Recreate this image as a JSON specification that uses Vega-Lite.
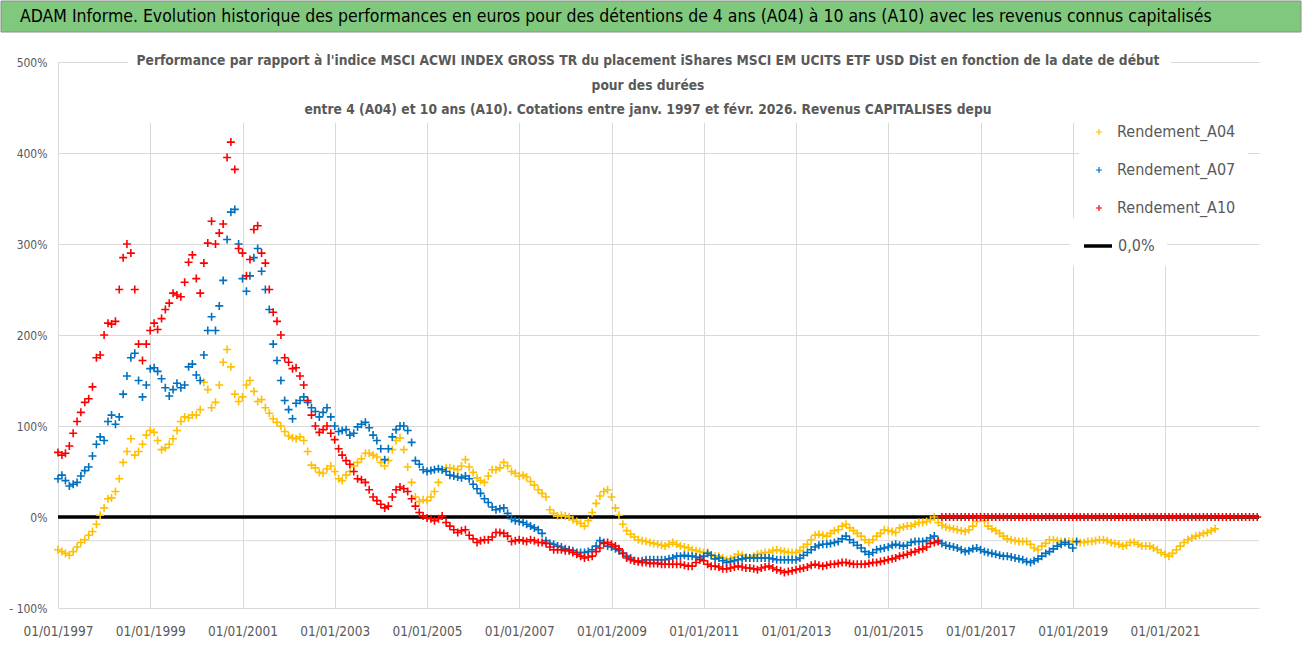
{
"$schema": "https://vega.github.io/schema/vega-lite/v6.json",
"padding": 0,
"columns": 1,
"bounds": "full",
"spacing": 21,
"background": "white",
"resolve": {"scale": {"color": "independent", "strokeDash": "independent"}, "legend": {"color": "independent", "strokeDash": "independent"}},
"config": {"font": "Liberation Sans Narrow, DejaVu Sans Condensed, sans-serif", "view": {"stroke": null}},
"datasets": {
"perf": [
{"date":"1997-01","series":"A04","value":-36},{"date":"1997-02","series":"A04","value":-38},{"date":"1997-03","series":"A04","value":-40},{"date":"1997-04","series":"A04","value":-42},{"date":"1997-05","series":"A04","value":-38},{"date":"1997-06","series":"A04","value":-33},{"date":"1997-07","series":"A04","value":-28},{"date":"1997-08","series":"A04","value":-25},{"date":"1997-09","series":"A04","value":-20},{"date":"1997-10","series":"A04","value":-16},{"date":"1997-11","series":"A04","value":-8},{"date":"1997-12","series":"A04","value":2},
{"date":"1998-01","series":"A04","value":10},{"date":"1998-02","series":"A04","value":20},{"date":"1998-03","series":"A04","value":21},{"date":"1998-04","series":"A04","value":28},{"date":"1998-05","series":"A04","value":42},{"date":"1998-06","series":"A04","value":60},{"date":"1998-07","series":"A04","value":72},{"date":"1998-08","series":"A04","value":86},{"date":"1998-09","series":"A04","value":68},{"date":"1998-10","series":"A04","value":72},{"date":"1998-11","series":"A04","value":80},{"date":"1998-12","series":"A04","value":90},
{"date":"1999-01","series":"A04","value":95},{"date":"1999-02","series":"A04","value":93},{"date":"1999-03","series":"A04","value":84},{"date":"1999-04","series":"A04","value":74},{"date":"1999-05","series":"A04","value":76},{"date":"1999-06","series":"A04","value":80},{"date":"1999-07","series":"A04","value":86},{"date":"1999-08","series":"A04","value":95},{"date":"1999-09","series":"A04","value":105},{"date":"1999-10","series":"A04","value":110},{"date":"1999-11","series":"A04","value":109},{"date":"1999-12","series":"A04","value":112},
{"date":"2000-01","series":"A04","value":112},{"date":"2000-02","series":"A04","value":118},{"date":"2000-03","series":"A04","value":148},{"date":"2000-04","series":"A04","value":140},{"date":"2000-05","series":"A04","value":120},{"date":"2000-06","series":"A04","value":126},{"date":"2000-07","series":"A04","value":145},{"date":"2000-08","series":"A04","value":170},{"date":"2000-09","series":"A04","value":184},{"date":"2000-10","series":"A04","value":165},{"date":"2000-11","series":"A04","value":135},{"date":"2000-12","series":"A04","value":127},
{"date":"2001-01","series":"A04","value":132},{"date":"2001-02","series":"A04","value":145},{"date":"2001-03","series":"A04","value":150},{"date":"2001-04","series":"A04","value":138},{"date":"2001-05","series":"A04","value":127},{"date":"2001-06","series":"A04","value":129},{"date":"2001-07","series":"A04","value":120},{"date":"2001-08","series":"A04","value":114},{"date":"2001-09","series":"A04","value":108},{"date":"2001-10","series":"A04","value":104},{"date":"2001-11","series":"A04","value":100},{"date":"2001-12","series":"A04","value":94},
{"date":"2002-01","series":"A04","value":89},{"date":"2002-02","series":"A04","value":87},{"date":"2002-03","series":"A04","value":86},{"date":"2002-04","series":"A04","value":88},{"date":"2002-05","series":"A04","value":84},{"date":"2002-06","series":"A04","value":72},{"date":"2002-07","series":"A04","value":57},{"date":"2002-08","series":"A04","value":54},{"date":"2002-09","series":"A04","value":49},{"date":"2002-10","series":"A04","value":48},{"date":"2002-11","series":"A04","value":53},{"date":"2002-12","series":"A04","value":56},
{"date":"2003-01","series":"A04","value":50},{"date":"2003-02","series":"A04","value":42},{"date":"2003-03","series":"A04","value":40},{"date":"2003-04","series":"A04","value":46},{"date":"2003-05","series":"A04","value":50},{"date":"2003-06","series":"A04","value":56},{"date":"2003-07","series":"A04","value":60},{"date":"2003-08","series":"A04","value":64},{"date":"2003-09","series":"A04","value":70},{"date":"2003-10","series":"A04","value":70},{"date":"2003-11","series":"A04","value":68},{"date":"2003-12","series":"A04","value":66},
{"date":"2004-01","series":"A04","value":60},{"date":"2004-02","series":"A04","value":56},{"date":"2004-03","series":"A04","value":62},{"date":"2004-04","series":"A04","value":74},{"date":"2004-05","series":"A04","value":84},{"date":"2004-06","series":"A04","value":87},{"date":"2004-07","series":"A04","value":74},{"date":"2004-08","series":"A04","value":55},{"date":"2004-09","series":"A04","value":38},{"date":"2004-10","series":"A04","value":22},{"date":"2004-11","series":"A04","value":17},{"date":"2004-12","series":"A04","value":19},
{"date":"2005-01","series":"A04","value":18},{"date":"2005-02","series":"A04","value":22},{"date":"2005-03","series":"A04","value":28},{"date":"2005-04","series":"A04","value":38},{"date":"2005-05","series":"A04","value":52},{"date":"2005-06","series":"A04","value":54},{"date":"2005-07","series":"A04","value":54},{"date":"2005-08","series":"A04","value":53},{"date":"2005-09","series":"A04","value":52},{"date":"2005-10","series":"A04","value":56},{"date":"2005-11","series":"A04","value":63},{"date":"2005-12","series":"A04","value":55},
{"date":"2006-01","series":"A04","value":49},{"date":"2006-02","series":"A04","value":43},{"date":"2006-03","series":"A04","value":40},{"date":"2006-04","series":"A04","value":38},{"date":"2006-05","series":"A04","value":45},{"date":"2006-06","series":"A04","value":52},{"date":"2006-07","series":"A04","value":52},{"date":"2006-08","series":"A04","value":54},{"date":"2006-09","series":"A04","value":60},{"date":"2006-10","series":"A04","value":56},{"date":"2006-11","series":"A04","value":50},{"date":"2006-12","series":"A04","value":48},
{"date":"2007-01","series":"A04","value":45},{"date":"2007-02","series":"A04","value":46},{"date":"2007-03","series":"A04","value":44},{"date":"2007-04","series":"A04","value":39},{"date":"2007-05","series":"A04","value":35},{"date":"2007-06","series":"A04","value":30},{"date":"2007-07","series":"A04","value":26},{"date":"2007-08","series":"A04","value":22},{"date":"2007-09","series":"A04","value":8},{"date":"2007-10","series":"A04","value":4},{"date":"2007-11","series":"A04","value":1},{"date":"2007-12","series":"A04","value":2},
{"date":"2008-01","series":"A04","value":1},{"date":"2008-02","series":"A04","value":0},{"date":"2008-03","series":"A04","value":-3},{"date":"2008-04","series":"A04","value":-5},{"date":"2008-05","series":"A04","value":-7},{"date":"2008-06","series":"A04","value":-10},{"date":"2008-07","series":"A04","value":-4},{"date":"2008-08","series":"A04","value":5},{"date":"2008-09","series":"A04","value":15},{"date":"2008-10","series":"A04","value":23},{"date":"2008-11","series":"A04","value":28},{"date":"2008-12","series":"A04","value":30},
{"date":"2009-01","series":"A04","value":22},{"date":"2009-02","series":"A04","value":10},{"date":"2009-03","series":"A04","value":2},{"date":"2009-04","series":"A04","value":-8},{"date":"2009-05","series":"A04","value":-15},{"date":"2009-06","series":"A04","value":-19},{"date":"2009-07","series":"A04","value":-22},{"date":"2009-08","series":"A04","value":-25},{"date":"2009-09","series":"A04","value":-26},{"date":"2009-10","series":"A04","value":-27},{"date":"2009-11","series":"A04","value":-28},{"date":"2009-12","series":"A04","value":-29},
{"date":"2010-01","series":"A04","value":-30},{"date":"2010-02","series":"A04","value":-31},{"date":"2010-03","series":"A04","value":-32},{"date":"2010-04","series":"A04","value":-30},{"date":"2010-05","series":"A04","value":-28},{"date":"2010-06","series":"A04","value":-30},{"date":"2010-07","series":"A04","value":-32},{"date":"2010-08","series":"A04","value":-33},{"date":"2010-09","series":"A04","value":-34},{"date":"2010-10","series":"A04","value":-36},{"date":"2010-11","series":"A04","value":-37},{"date":"2010-12","series":"A04","value":-38},
{"date":"2011-01","series":"A04","value":-39},{"date":"2011-02","series":"A04","value":-39},{"date":"2011-03","series":"A04","value":-42},{"date":"2011-04","series":"A04","value":-43},{"date":"2011-05","series":"A04","value":-43},{"date":"2011-06","series":"A04","value":-45},{"date":"2011-07","series":"A04","value":-47},{"date":"2011-08","series":"A04","value":-46},{"date":"2011-09","series":"A04","value":-44},{"date":"2011-10","series":"A04","value":-41},{"date":"2011-11","series":"A04","value":-42},{"date":"2011-12","series":"A04","value":-44},
{"date":"2012-01","series":"A04","value":-45},{"date":"2012-02","series":"A04","value":-43},{"date":"2012-03","series":"A04","value":-41},{"date":"2012-04","series":"A04","value":-40},{"date":"2012-05","series":"A04","value":-39},{"date":"2012-06","series":"A04","value":-39},{"date":"2012-07","series":"A04","value":-37},{"date":"2012-08","series":"A04","value":-36},{"date":"2012-09","series":"A04","value":-37},{"date":"2012-10","series":"A04","value":-38},{"date":"2012-11","series":"A04","value":-39},{"date":"2012-12","series":"A04","value":-39},
{"date":"2013-01","series":"A04","value":-39},{"date":"2013-02","series":"A04","value":-37},{"date":"2013-03","series":"A04","value":-33},{"date":"2013-04","series":"A04","value":-30},{"date":"2013-05","series":"A04","value":-25},{"date":"2013-06","series":"A04","value":-20},{"date":"2013-07","series":"A04","value":-19},{"date":"2013-08","series":"A04","value":-20},{"date":"2013-09","series":"A04","value":-21},{"date":"2013-10","series":"A04","value":-18},{"date":"2013-11","series":"A04","value":-15},{"date":"2013-12","series":"A04","value":-14},
{"date":"2014-01","series":"A04","value":-10},{"date":"2014-02","series":"A04","value":-8},{"date":"2014-03","series":"A04","value":-12},{"date":"2014-04","series":"A04","value":-15},{"date":"2014-05","series":"A04","value":-18},{"date":"2014-06","series":"A04","value":-21},{"date":"2014-07","series":"A04","value":-25},{"date":"2014-08","series":"A04","value":-28},{"date":"2014-09","series":"A04","value":-25},{"date":"2014-10","series":"A04","value":-21},{"date":"2014-11","series":"A04","value":-18},{"date":"2014-12","series":"A04","value":-14},
{"date":"2015-01","series":"A04","value":-15},{"date":"2015-02","series":"A04","value":-16},{"date":"2015-03","series":"A04","value":-17},{"date":"2015-04","series":"A04","value":-12},{"date":"2015-05","series":"A04","value":-11},{"date":"2015-06","series":"A04","value":-10},{"date":"2015-07","series":"A04","value":-10},{"date":"2015-08","series":"A04","value":-8},{"date":"2015-09","series":"A04","value":-6},{"date":"2015-10","series":"A04","value":-6},{"date":"2015-11","series":"A04","value":-5},{"date":"2015-12","series":"A04","value":-3},
{"date":"2016-01","series":"A04","value":0},{"date":"2016-02","series":"A04","value":-6},{"date":"2016-03","series":"A04","value":-9},{"date":"2016-04","series":"A04","value":-11},{"date":"2016-05","series":"A04","value":-12},{"date":"2016-06","series":"A04","value":-13},{"date":"2016-07","series":"A04","value":-14},{"date":"2016-08","series":"A04","value":-15},{"date":"2016-09","series":"A04","value":-16},{"date":"2016-10","series":"A04","value":-14},{"date":"2016-11","series":"A04","value":-10},{"date":"2016-12","series":"A04","value":-5},
{"date":"2017-01","series":"A04","value":0},{"date":"2017-02","series":"A04","value":-4},{"date":"2017-03","series":"A04","value":-10},{"date":"2017-04","series":"A04","value":-13},{"date":"2017-05","series":"A04","value":-15},{"date":"2017-06","series":"A04","value":-18},{"date":"2017-07","series":"A04","value":-21},{"date":"2017-08","series":"A04","value":-24},{"date":"2017-09","series":"A04","value":-25},{"date":"2017-10","series":"A04","value":-26},{"date":"2017-11","series":"A04","value":-27},{"date":"2017-12","series":"A04","value":-27},
{"date":"2018-01","series":"A04","value":-27},{"date":"2018-02","series":"A04","value":-30},{"date":"2018-03","series":"A04","value":-34},{"date":"2018-04","series":"A04","value":-36},{"date":"2018-05","series":"A04","value":-32},{"date":"2018-06","series":"A04","value":-29},{"date":"2018-07","series":"A04","value":-25},{"date":"2018-08","series":"A04","value":-25},{"date":"2018-09","series":"A04","value":-26},{"date":"2018-10","series":"A04","value":-27},{"date":"2018-11","series":"A04","value":-27},{"date":"2018-12","series":"A04","value":-27},
{"date":"2019-01","series":"A04","value":-27},{"date":"2019-02","series":"A04","value":-28},{"date":"2019-03","series":"A04","value":-28},{"date":"2019-04","series":"A04","value":-28},{"date":"2019-05","series":"A04","value":-27},{"date":"2019-06","series":"A04","value":-27},{"date":"2019-07","series":"A04","value":-26},{"date":"2019-08","series":"A04","value":-25},{"date":"2019-09","series":"A04","value":-25},{"date":"2019-10","series":"A04","value":-26},{"date":"2019-11","series":"A04","value":-28},{"date":"2019-12","series":"A04","value":-29},
{"date":"2020-01","series":"A04","value":-30},{"date":"2020-02","series":"A04","value":-32},{"date":"2020-03","series":"A04","value":-31},{"date":"2020-04","series":"A04","value":-28},{"date":"2020-05","series":"A04","value":-28},{"date":"2020-06","series":"A04","value":-30},{"date":"2020-07","series":"A04","value":-32},{"date":"2020-08","series":"A04","value":-32},{"date":"2020-09","series":"A04","value":-32},{"date":"2020-10","series":"A04","value":-34},{"date":"2020-11","series":"A04","value":-36},{"date":"2020-12","series":"A04","value":-39},
{"date":"2021-01","series":"A04","value":-41},{"date":"2021-02","series":"A04","value":-43},{"date":"2021-03","series":"A04","value":-40},{"date":"2021-04","series":"A04","value":-36},{"date":"2021-05","series":"A04","value":-32},{"date":"2021-06","series":"A04","value":-28},{"date":"2021-07","series":"A04","value":-25},{"date":"2021-08","series":"A04","value":-23},{"date":"2021-09","series":"A04","value":-21},{"date":"2021-10","series":"A04","value":-20},{"date":"2021-11","series":"A04","value":-18},{"date":"2021-12","series":"A04","value":-17},
{"date":"2022-01","series":"A04","value":-15},{"date":"2022-02","series":"A04","value":-13},
{"date":"1997-01","series":"A07","value":42},{"date":"1997-02","series":"A07","value":46},{"date":"1997-03","series":"A07","value":40},{"date":"1997-04","series":"A07","value":34},{"date":"1997-05","series":"A07","value":36},{"date":"1997-06","series":"A07","value":38},{"date":"1997-07","series":"A07","value":45},{"date":"1997-08","series":"A07","value":51},{"date":"1997-09","series":"A07","value":55},{"date":"1997-10","series":"A07","value":67},{"date":"1997-11","series":"A07","value":80},{"date":"1997-12","series":"A07","value":88},
{"date":"1998-01","series":"A07","value":84},{"date":"1998-02","series":"A07","value":105},{"date":"1998-03","series":"A07","value":112},{"date":"1998-04","series":"A07","value":102},{"date":"1998-05","series":"A07","value":110},{"date":"1998-06","series":"A07","value":135},{"date":"1998-07","series":"A07","value":155},{"date":"1998-08","series":"A07","value":175},{"date":"1998-09","series":"A07","value":180},{"date":"1998-10","series":"A07","value":150},{"date":"1998-11","series":"A07","value":132},{"date":"1998-12","series":"A07","value":145},
{"date":"1999-01","series":"A07","value":163},{"date":"1999-02","series":"A07","value":164},{"date":"1999-03","series":"A07","value":160},{"date":"1999-04","series":"A07","value":152},{"date":"1999-05","series":"A07","value":142},{"date":"1999-06","series":"A07","value":133},{"date":"1999-07","series":"A07","value":140},{"date":"1999-08","series":"A07","value":147},{"date":"1999-09","series":"A07","value":142},{"date":"1999-10","series":"A07","value":145},{"date":"1999-11","series":"A07","value":165},{"date":"1999-12","series":"A07","value":168},
{"date":"2000-01","series":"A07","value":156},{"date":"2000-02","series":"A07","value":150},{"date":"2000-03","series":"A07","value":178},{"date":"2000-04","series":"A07","value":205},{"date":"2000-05","series":"A07","value":220},{"date":"2000-06","series":"A07","value":205},{"date":"2000-07","series":"A07","value":232},{"date":"2000-08","series":"A07","value":260},{"date":"2000-09","series":"A07","value":305},{"date":"2000-10","series":"A07","value":335},{"date":"2000-11","series":"A07","value":338},{"date":"2000-12","series":"A07","value":300},
{"date":"2001-01","series":"A07","value":262},{"date":"2001-02","series":"A07","value":248},{"date":"2001-03","series":"A07","value":265},{"date":"2001-04","series":"A07","value":285},{"date":"2001-05","series":"A07","value":295},{"date":"2001-06","series":"A07","value":270},{"date":"2001-07","series":"A07","value":250},{"date":"2001-08","series":"A07","value":228},{"date":"2001-09","series":"A07","value":190},{"date":"2001-10","series":"A07","value":172},{"date":"2001-11","series":"A07","value":150},{"date":"2001-12","series":"A07","value":128},
{"date":"2002-01","series":"A07","value":118},{"date":"2002-02","series":"A07","value":108},{"date":"2002-03","series":"A07","value":125},{"date":"2002-04","series":"A07","value":128},{"date":"2002-05","series":"A07","value":132},{"date":"2002-06","series":"A07","value":126},{"date":"2002-07","series":"A07","value":120},{"date":"2002-08","series":"A07","value":116},{"date":"2002-09","series":"A07","value":110},{"date":"2002-10","series":"A07","value":115},{"date":"2002-11","series":"A07","value":120},{"date":"2002-12","series":"A07","value":110},
{"date":"2003-01","series":"A07","value":100},{"date":"2003-02","series":"A07","value":94},{"date":"2003-03","series":"A07","value":95},{"date":"2003-04","series":"A07","value":96},{"date":"2003-05","series":"A07","value":90},{"date":"2003-06","series":"A07","value":92},{"date":"2003-07","series":"A07","value":99},{"date":"2003-08","series":"A07","value":102},{"date":"2003-09","series":"A07","value":104},{"date":"2003-10","series":"A07","value":98},{"date":"2003-11","series":"A07","value":90},{"date":"2003-12","series":"A07","value":84},
{"date":"2004-01","series":"A07","value":75},{"date":"2004-02","series":"A07","value":63},{"date":"2004-03","series":"A07","value":75},{"date":"2004-04","series":"A07","value":88},{"date":"2004-05","series":"A07","value":96},{"date":"2004-06","series":"A07","value":100},{"date":"2004-07","series":"A07","value":100},{"date":"2004-08","series":"A07","value":95},{"date":"2004-09","series":"A07","value":82},{"date":"2004-10","series":"A07","value":62},{"date":"2004-11","series":"A07","value":58},{"date":"2004-12","series":"A07","value":52},
{"date":"2005-01","series":"A07","value":50},{"date":"2005-02","series":"A07","value":51},{"date":"2005-03","series":"A07","value":52},{"date":"2005-04","series":"A07","value":53},{"date":"2005-05","series":"A07","value":52},{"date":"2005-06","series":"A07","value":50},{"date":"2005-07","series":"A07","value":46},{"date":"2005-08","series":"A07","value":45},{"date":"2005-09","series":"A07","value":44},{"date":"2005-10","series":"A07","value":43},{"date":"2005-11","series":"A07","value":45},{"date":"2005-12","series":"A07","value":42},
{"date":"2006-01","series":"A07","value":36},{"date":"2006-02","series":"A07","value":31},{"date":"2006-03","series":"A07","value":26},{"date":"2006-04","series":"A07","value":20},{"date":"2006-05","series":"A07","value":16},{"date":"2006-06","series":"A07","value":11},{"date":"2006-07","series":"A07","value":8},{"date":"2006-08","series":"A07","value":9},{"date":"2006-09","series":"A07","value":10},{"date":"2006-10","series":"A07","value":4},{"date":"2006-11","series":"A07","value":-2},{"date":"2006-12","series":"A07","value":-4},
{"date":"2007-01","series":"A07","value":-5},{"date":"2007-02","series":"A07","value":-6},{"date":"2007-03","series":"A07","value":-8},{"date":"2007-04","series":"A07","value":-10},{"date":"2007-05","series":"A07","value":-12},{"date":"2007-06","series":"A07","value":-14},{"date":"2007-07","series":"A07","value":-18},{"date":"2007-08","series":"A07","value":-26},{"date":"2007-09","series":"A07","value":-29},{"date":"2007-10","series":"A07","value":-30},{"date":"2007-11","series":"A07","value":-32},{"date":"2007-12","series":"A07","value":-33},
{"date":"2008-01","series":"A07","value":-35},{"date":"2008-02","series":"A07","value":-36},{"date":"2008-03","series":"A07","value":-37},{"date":"2008-04","series":"A07","value":-39},{"date":"2008-05","series":"A07","value":-39},{"date":"2008-06","series":"A07","value":-39},{"date":"2008-07","series":"A07","value":-38},{"date":"2008-08","series":"A07","value":-36},{"date":"2008-09","series":"A07","value":-32},{"date":"2008-10","series":"A07","value":-26},{"date":"2008-11","series":"A07","value":-28},{"date":"2008-12","series":"A07","value":-32},
{"date":"2009-01","series":"A07","value":-33},{"date":"2009-02","series":"A07","value":-35},{"date":"2009-03","series":"A07","value":-37},{"date":"2009-04","series":"A07","value":-40},{"date":"2009-05","series":"A07","value":-43},{"date":"2009-06","series":"A07","value":-45},{"date":"2009-07","series":"A07","value":-48},{"date":"2009-08","series":"A07","value":-49},{"date":"2009-09","series":"A07","value":-48},{"date":"2009-10","series":"A07","value":-47},{"date":"2009-11","series":"A07","value":-47},{"date":"2009-12","series":"A07","value":-47},
{"date":"2010-01","series":"A07","value":-47},{"date":"2010-02","series":"A07","value":-47},{"date":"2010-03","series":"A07","value":-47},{"date":"2010-04","series":"A07","value":-46},{"date":"2010-05","series":"A07","value":-45},{"date":"2010-06","series":"A07","value":-43},{"date":"2010-07","series":"A07","value":-43},{"date":"2010-08","series":"A07","value":-42},{"date":"2010-09","series":"A07","value":-43},{"date":"2010-10","series":"A07","value":-43},{"date":"2010-11","series":"A07","value":-44},{"date":"2010-12","series":"A07","value":-45},
{"date":"2011-01","series":"A07","value":-43},{"date":"2011-02","series":"A07","value":-40},{"date":"2011-03","series":"A07","value":-42},{"date":"2011-04","series":"A07","value":-46},{"date":"2011-05","series":"A07","value":-45},{"date":"2011-06","series":"A07","value":-48},{"date":"2011-07","series":"A07","value":-50},{"date":"2011-08","series":"A07","value":-49},{"date":"2011-09","series":"A07","value":-48},{"date":"2011-10","series":"A07","value":-47},{"date":"2011-11","series":"A07","value":-46},{"date":"2011-12","series":"A07","value":-45},
{"date":"2012-01","series":"A07","value":-45},{"date":"2012-02","series":"A07","value":-45},{"date":"2012-03","series":"A07","value":-45},{"date":"2012-04","series":"A07","value":-45},{"date":"2012-05","series":"A07","value":-45},{"date":"2012-06","series":"A07","value":-45},{"date":"2012-07","series":"A07","value":-46},{"date":"2012-08","series":"A07","value":-47},{"date":"2012-09","series":"A07","value":-47},{"date":"2012-10","series":"A07","value":-47},{"date":"2012-11","series":"A07","value":-47},{"date":"2012-12","series":"A07","value":-47},
{"date":"2013-01","series":"A07","value":-47},{"date":"2013-02","series":"A07","value":-45},{"date":"2013-03","series":"A07","value":-42},{"date":"2013-04","series":"A07","value":-39},{"date":"2013-05","series":"A07","value":-36},{"date":"2013-06","series":"A07","value":-33},{"date":"2013-07","series":"A07","value":-31},{"date":"2013-08","series":"A07","value":-30},{"date":"2013-09","series":"A07","value":-30},{"date":"2013-10","series":"A07","value":-29},{"date":"2013-11","series":"A07","value":-28},{"date":"2013-12","series":"A07","value":-27},
{"date":"2014-01","series":"A07","value":-24},{"date":"2014-02","series":"A07","value":-21},{"date":"2014-03","series":"A07","value":-25},{"date":"2014-04","series":"A07","value":-28},{"date":"2014-05","series":"A07","value":-31},{"date":"2014-06","series":"A07","value":-34},{"date":"2014-07","series":"A07","value":-38},{"date":"2014-08","series":"A07","value":-41},{"date":"2014-09","series":"A07","value":-39},{"date":"2014-10","series":"A07","value":-36},{"date":"2014-11","series":"A07","value":-35},{"date":"2014-12","series":"A07","value":-34},
{"date":"2015-01","series":"A07","value":-33},{"date":"2015-02","series":"A07","value":-31},{"date":"2015-03","series":"A07","value":-30},{"date":"2015-04","series":"A07","value":-31},{"date":"2015-05","series":"A07","value":-32},{"date":"2015-06","series":"A07","value":-31},{"date":"2015-07","series":"A07","value":-28},{"date":"2015-08","series":"A07","value":-27},{"date":"2015-09","series":"A07","value":-27},{"date":"2015-10","series":"A07","value":-27},{"date":"2015-11","series":"A07","value":-26},{"date":"2015-12","series":"A07","value":-23},
{"date":"2016-01","series":"A07","value":-21},{"date":"2016-02","series":"A07","value":-26},{"date":"2016-03","series":"A07","value":-29},{"date":"2016-04","series":"A07","value":-31},{"date":"2016-05","series":"A07","value":-32},{"date":"2016-06","series":"A07","value":-33},{"date":"2016-07","series":"A07","value":-34},{"date":"2016-08","series":"A07","value":-36},{"date":"2016-09","series":"A07","value":-38},{"date":"2016-10","series":"A07","value":-37},{"date":"2016-11","series":"A07","value":-35},{"date":"2016-12","series":"A07","value":-34},
{"date":"2017-01","series":"A07","value":-36},{"date":"2017-02","series":"A07","value":-38},{"date":"2017-03","series":"A07","value":-39},{"date":"2017-04","series":"A07","value":-40},{"date":"2017-05","series":"A07","value":-41},{"date":"2017-06","series":"A07","value":-42},{"date":"2017-07","series":"A07","value":-43},{"date":"2017-08","series":"A07","value":-43},{"date":"2017-09","series":"A07","value":-44},{"date":"2017-10","series":"A07","value":-45},{"date":"2017-11","series":"A07","value":-46},{"date":"2017-12","series":"A07","value":-47},
{"date":"2018-01","series":"A07","value":-49},{"date":"2018-02","series":"A07","value":-50},{"date":"2018-03","series":"A07","value":-48},{"date":"2018-04","series":"A07","value":-46},{"date":"2018-05","series":"A07","value":-43},{"date":"2018-06","series":"A07","value":-40},{"date":"2018-07","series":"A07","value":-38},{"date":"2018-08","series":"A07","value":-35},{"date":"2018-09","series":"A07","value":-32},{"date":"2018-10","series":"A07","value":-30},{"date":"2018-11","series":"A07","value":-28},{"date":"2018-12","series":"A07","value":-30},
{"date":"2019-01","series":"A07","value":-34},{"date":"2019-02","series":"A07","value":-27},
{"date":"1997-01","series":"A10","value":71},{"date":"1997-02","series":"A10","value":68},{"date":"1997-03","series":"A10","value":70},{"date":"1997-04","series":"A10","value":78},{"date":"1997-05","series":"A10","value":92},{"date":"1997-06","series":"A10","value":105},{"date":"1997-07","series":"A10","value":115},{"date":"1997-08","series":"A10","value":126},{"date":"1997-09","series":"A10","value":130},{"date":"1997-10","series":"A10","value":143},{"date":"1997-11","series":"A10","value":175},{"date":"1997-12","series":"A10","value":178},
{"date":"1998-01","series":"A10","value":200},{"date":"1998-02","series":"A10","value":213},{"date":"1998-03","series":"A10","value":212},{"date":"1998-04","series":"A10","value":215},{"date":"1998-05","series":"A10","value":250},{"date":"1998-06","series":"A10","value":285},{"date":"1998-07","series":"A10","value":300},{"date":"1998-08","series":"A10","value":290},{"date":"1998-09","series":"A10","value":250},{"date":"1998-10","series":"A10","value":190},{"date":"1998-11","series":"A10","value":172},{"date":"1998-12","series":"A10","value":190},
{"date":"1999-01","series":"A10","value":205},{"date":"1999-02","series":"A10","value":213},{"date":"1999-03","series":"A10","value":206},{"date":"1999-04","series":"A10","value":218},{"date":"1999-05","series":"A10","value":228},{"date":"1999-06","series":"A10","value":235},{"date":"1999-07","series":"A10","value":246},{"date":"1999-08","series":"A10","value":244},{"date":"1999-09","series":"A10","value":242},{"date":"1999-10","series":"A10","value":258},{"date":"1999-11","series":"A10","value":280},{"date":"1999-12","series":"A10","value":288},
{"date":"2000-01","series":"A10","value":262},{"date":"2000-02","series":"A10","value":246},{"date":"2000-03","series":"A10","value":279},{"date":"2000-04","series":"A10","value":301},{"date":"2000-05","series":"A10","value":325},{"date":"2000-06","series":"A10","value":300},{"date":"2000-07","series":"A10","value":312},{"date":"2000-08","series":"A10","value":322},{"date":"2000-09","series":"A10","value":395},{"date":"2000-10","series":"A10","value":412},{"date":"2000-11","series":"A10","value":382},{"date":"2000-12","series":"A10","value":295},
{"date":"2001-01","series":"A10","value":290},{"date":"2001-02","series":"A10","value":265},{"date":"2001-03","series":"A10","value":283},{"date":"2001-04","series":"A10","value":316},{"date":"2001-05","series":"A10","value":320},{"date":"2001-06","series":"A10","value":290},{"date":"2001-07","series":"A10","value":279},{"date":"2001-08","series":"A10","value":250},{"date":"2001-09","series":"A10","value":225},{"date":"2001-10","series":"A10","value":215},{"date":"2001-11","series":"A10","value":200},{"date":"2001-12","series":"A10","value":175},
{"date":"2002-01","series":"A10","value":170},{"date":"2002-02","series":"A10","value":163},{"date":"2002-03","series":"A10","value":164},{"date":"2002-04","series":"A10","value":155},{"date":"2002-05","series":"A10","value":145},{"date":"2002-06","series":"A10","value":128},{"date":"2002-07","series":"A10","value":112},{"date":"2002-08","series":"A10","value":100},{"date":"2002-09","series":"A10","value":93},{"date":"2002-10","series":"A10","value":96},{"date":"2002-11","series":"A10","value":100},{"date":"2002-12","series":"A10","value":92},
{"date":"2003-01","series":"A10","value":85},{"date":"2003-02","series":"A10","value":75},{"date":"2003-03","series":"A10","value":68},{"date":"2003-04","series":"A10","value":62},{"date":"2003-05","series":"A10","value":58},{"date":"2003-06","series":"A10","value":50},{"date":"2003-07","series":"A10","value":42},{"date":"2003-08","series":"A10","value":41},{"date":"2003-09","series":"A10","value":38},{"date":"2003-10","series":"A10","value":30},{"date":"2003-11","series":"A10","value":22},{"date":"2003-12","series":"A10","value":18},
{"date":"2004-01","series":"A10","value":14},{"date":"2004-02","series":"A10","value":10},{"date":"2004-03","series":"A10","value":12},{"date":"2004-04","series":"A10","value":22},{"date":"2004-05","series":"A10","value":30},{"date":"2004-06","series":"A10","value":33},{"date":"2004-07","series":"A10","value":31},{"date":"2004-08","series":"A10","value":28},{"date":"2004-09","series":"A10","value":20},{"date":"2004-10","series":"A10","value":12},{"date":"2004-11","series":"A10","value":5},{"date":"2004-12","series":"A10","value":1},
{"date":"2005-01","series":"A10","value":-1},{"date":"2005-02","series":"A10","value":-2},{"date":"2005-03","series":"A10","value":-4},{"date":"2005-04","series":"A10","value":-2},{"date":"2005-05","series":"A10","value":1},{"date":"2005-06","series":"A10","value":-6},{"date":"2005-07","series":"A10","value":-10},{"date":"2005-08","series":"A10","value":-14},{"date":"2005-09","series":"A10","value":-17},{"date":"2005-10","series":"A10","value":-15},{"date":"2005-11","series":"A10","value":-14},{"date":"2005-12","series":"A10","value":-20},
{"date":"2006-01","series":"A10","value":-24},{"date":"2006-02","series":"A10","value":-28},{"date":"2006-03","series":"A10","value":-26},{"date":"2006-04","series":"A10","value":-25},{"date":"2006-05","series":"A10","value":-25},{"date":"2006-06","series":"A10","value":-22},{"date":"2006-07","series":"A10","value":-17},{"date":"2006-08","series":"A10","value":-17},{"date":"2006-09","series":"A10","value":-18},{"date":"2006-10","series":"A10","value":-21},{"date":"2006-11","series":"A10","value":-27},{"date":"2006-12","series":"A10","value":-26},
{"date":"2007-01","series":"A10","value":-25},{"date":"2007-02","series":"A10","value":-26},{"date":"2007-03","series":"A10","value":-27},{"date":"2007-04","series":"A10","value":-25},{"date":"2007-05","series":"A10","value":-26},{"date":"2007-06","series":"A10","value":-28},{"date":"2007-07","series":"A10","value":-28},{"date":"2007-08","series":"A10","value":-29},{"date":"2007-09","series":"A10","value":-33},{"date":"2007-10","series":"A10","value":-36},{"date":"2007-11","series":"A10","value":-36},{"date":"2007-12","series":"A10","value":-36},
{"date":"2008-01","series":"A10","value":-37},{"date":"2008-02","series":"A10","value":-37},{"date":"2008-03","series":"A10","value":-39},{"date":"2008-04","series":"A10","value":-41},{"date":"2008-05","series":"A10","value":-43},{"date":"2008-06","series":"A10","value":-45},{"date":"2008-07","series":"A10","value":-44},{"date":"2008-08","series":"A10","value":-43},{"date":"2008-09","series":"A10","value":-38},{"date":"2008-10","series":"A10","value":-34},{"date":"2008-11","series":"A10","value":-29},{"date":"2008-12","series":"A10","value":-28},
{"date":"2009-01","series":"A10","value":-30},{"date":"2009-02","series":"A10","value":-32},{"date":"2009-03","series":"A10","value":-35},{"date":"2009-04","series":"A10","value":-40},{"date":"2009-05","series":"A10","value":-45},{"date":"2009-06","series":"A10","value":-47},{"date":"2009-07","series":"A10","value":-48},{"date":"2009-08","series":"A10","value":-49},{"date":"2009-09","series":"A10","value":-50},{"date":"2009-10","series":"A10","value":-50},{"date":"2009-11","series":"A10","value":-51},{"date":"2009-12","series":"A10","value":-51},
{"date":"2010-01","series":"A10","value":-51},{"date":"2010-02","series":"A10","value":-52},{"date":"2010-03","series":"A10","value":-52},{"date":"2010-04","series":"A10","value":-52},{"date":"2010-05","series":"A10","value":-52},{"date":"2010-06","series":"A10","value":-52},{"date":"2010-07","series":"A10","value":-52},{"date":"2010-08","series":"A10","value":-53},{"date":"2010-09","series":"A10","value":-54},{"date":"2010-10","series":"A10","value":-54},{"date":"2010-11","series":"A10","value":-50},{"date":"2010-12","series":"A10","value":-47},
{"date":"2011-01","series":"A10","value":-48},{"date":"2011-02","series":"A10","value":-52},{"date":"2011-03","series":"A10","value":-54},{"date":"2011-04","series":"A10","value":-54},{"date":"2011-05","series":"A10","value":-55},{"date":"2011-06","series":"A10","value":-57},{"date":"2011-07","series":"A10","value":-57},{"date":"2011-08","series":"A10","value":-56},{"date":"2011-09","series":"A10","value":-55},{"date":"2011-10","series":"A10","value":-54},{"date":"2011-11","series":"A10","value":-55},{"date":"2011-12","series":"A10","value":-56},
{"date":"2012-01","series":"A10","value":-56},{"date":"2012-02","series":"A10","value":-57},{"date":"2012-03","series":"A10","value":-58},{"date":"2012-04","series":"A10","value":-56},{"date":"2012-05","series":"A10","value":-55},{"date":"2012-06","series":"A10","value":-54},{"date":"2012-07","series":"A10","value":-56},{"date":"2012-08","series":"A10","value":-58},{"date":"2012-09","series":"A10","value":-59},{"date":"2012-10","series":"A10","value":-61},{"date":"2012-11","series":"A10","value":-60},{"date":"2012-12","series":"A10","value":-59},
{"date":"2013-01","series":"A10","value":-58},{"date":"2013-02","series":"A10","value":-57},{"date":"2013-03","series":"A10","value":-56},{"date":"2013-04","series":"A10","value":-55},{"date":"2013-05","series":"A10","value":-53},{"date":"2013-06","series":"A10","value":-52},{"date":"2013-07","series":"A10","value":-53},{"date":"2013-08","series":"A10","value":-54},{"date":"2013-09","series":"A10","value":-53},{"date":"2013-10","series":"A10","value":-52},{"date":"2013-11","series":"A10","value":-52},{"date":"2013-12","series":"A10","value":-51},
{"date":"2014-01","series":"A10","value":-50},{"date":"2014-02","series":"A10","value":-50},{"date":"2014-03","series":"A10","value":-51},{"date":"2014-04","series":"A10","value":-52},{"date":"2014-05","series":"A10","value":-52},{"date":"2014-06","series":"A10","value":-52},{"date":"2014-07","series":"A10","value":-52},{"date":"2014-08","series":"A10","value":-51},{"date":"2014-09","series":"A10","value":-50},{"date":"2014-10","series":"A10","value":-50},{"date":"2014-11","series":"A10","value":-49},{"date":"2014-12","series":"A10","value":-48},
{"date":"2015-01","series":"A10","value":-47},{"date":"2015-02","series":"A10","value":-46},{"date":"2015-03","series":"A10","value":-45},{"date":"2015-04","series":"A10","value":-43},{"date":"2015-05","series":"A10","value":-42},{"date":"2015-06","series":"A10","value":-41},{"date":"2015-07","series":"A10","value":-39},{"date":"2015-08","series":"A10","value":-38},{"date":"2015-09","series":"A10","value":-36},{"date":"2015-10","series":"A10","value":-35},{"date":"2015-11","series":"A10","value":-33},{"date":"2015-12","series":"A10","value":-29},
{"date":"2016-01","series":"A10","value":-28},{"date":"2016-02","series":"A10","value":-27},{"date":"2016-03","series":"A10","value":0},{"date":"2016-04","series":"A10","value":0},{"date":"2016-05","series":"A10","value":0},{"date":"2016-06","series":"A10","value":0},{"date":"2016-07","series":"A10","value":0},{"date":"2016-08","series":"A10","value":0},{"date":"2016-09","series":"A10","value":0},{"date":"2016-10","series":"A10","value":0},{"date":"2016-11","series":"A10","value":0},{"date":"2016-12","series":"A10","value":0},
{"date":"2017-01","series":"A10","value":0},{"date":"2017-02","series":"A10","value":0},{"date":"2017-03","series":"A10","value":0},{"date":"2017-04","series":"A10","value":0},{"date":"2017-05","series":"A10","value":0},{"date":"2017-06","series":"A10","value":0},{"date":"2017-07","series":"A10","value":0},{"date":"2017-08","series":"A10","value":0},{"date":"2017-09","series":"A10","value":0},{"date":"2017-10","series":"A10","value":0},{"date":"2017-11","series":"A10","value":0},{"date":"2017-12","series":"A10","value":0},
{"date":"2018-01","series":"A10","value":0},{"date":"2018-02","series":"A10","value":0},{"date":"2018-03","series":"A10","value":0},{"date":"2018-04","series":"A10","value":0},{"date":"2018-05","series":"A10","value":0},{"date":"2018-06","series":"A10","value":0},{"date":"2018-07","series":"A10","value":0},{"date":"2018-08","series":"A10","value":0},{"date":"2018-09","series":"A10","value":0},{"date":"2018-10","series":"A10","value":0},{"date":"2018-11","series":"A10","value":0},{"date":"2018-12","series":"A10","value":0},
{"date":"2019-01","series":"A10","value":0},{"date":"2019-02","series":"A10","value":0},{"date":"2019-03","series":"A10","value":0},{"date":"2019-04","series":"A10","value":0},{"date":"2019-05","series":"A10","value":0},{"date":"2019-06","series":"A10","value":0},{"date":"2019-07","series":"A10","value":0},{"date":"2019-08","series":"A10","value":0},{"date":"2019-09","series":"A10","value":0},{"date":"2019-10","series":"A10","value":0},{"date":"2019-11","series":"A10","value":0},{"date":"2019-12","series":"A10","value":0},
{"date":"2020-01","series":"A10","value":0},{"date":"2020-02","series":"A10","value":0},{"date":"2020-03","series":"A10","value":0},{"date":"2020-04","series":"A10","value":0},{"date":"2020-05","series":"A10","value":0},{"date":"2020-06","series":"A10","value":0},{"date":"2020-07","series":"A10","value":0},{"date":"2020-08","series":"A10","value":0},{"date":"2020-09","series":"A10","value":0},{"date":"2020-10","series":"A10","value":0},{"date":"2020-11","series":"A10","value":0},{"date":"2020-12","series":"A10","value":0},
{"date":"2021-01","series":"A10","value":0},{"date":"2021-02","series":"A10","value":0},{"date":"2021-03","series":"A10","value":0},{"date":"2021-04","series":"A10","value":0},{"date":"2021-05","series":"A10","value":0},{"date":"2021-06","series":"A10","value":0},{"date":"2021-07","series":"A10","value":0},{"date":"2021-08","series":"A10","value":0},{"date":"2021-09","series":"A10","value":0},{"date":"2021-10","series":"A10","value":0},{"date":"2021-11","series":"A10","value":0},{"date":"2021-12","series":"A10","value":0},
{"date":"2022-01","series":"A10","value":0},{"date":"2022-02","series":"A10","value":0},{"date":"2022-03","series":"A10","value":0},{"date":"2022-04","series":"A10","value":0},{"date":"2022-05","series":"A10","value":0},{"date":"2022-06","series":"A10","value":0},{"date":"2022-07","series":"A10","value":0},{"date":"2022-08","series":"A10","value":0},{"date":"2022-09","series":"A10","value":0},{"date":"2022-10","series":"A10","value":0},{"date":"2022-11","series":"A10","value":0},{"date":"2022-12","series":"A10","value":0},
{"date":"2023-01","series":"A10","value":0}
]
},
"concat": [
{
"width": 1300,
"height": 31,
"data": {"values": [{"banner": "ADAM Informe"}]},
"mark": {"type": "rect", "color": "#80C87E", "stroke": "#8C8C8C", "strokeWidth": 1},
"title": {"text": "ADAM Informe. Evolution historique des performances en euros pour des détentions de 4 ans (A04) à 10 ans (A10) avec les revenus connus capitalisés", "orient": "bottom", "anchor": "start", "frame": "group", "offset": -15.5, "dx": 19, "baseline": "middle", "fontSize": 17.5, "fontWeight": "normal", "color": "#000000"}
},
{
"width": 1258,
"height": 546,
"title": {"text": ["Performance par rapport à l'indice MSCI ACWI INDEX GROSS TR  du placement iShares MSCI EM UCITS ETF USD Dist en fonction de la date de début", "pour des durées", "entre 4 (A04) et 10 ans (A10). Cotations entre janv. 1997 et févr. 2026. Revenus CAPITALISES depu"], "orient": "top", "anchor": "middle", "frame": "group", "offset": -61, "dx": 18, "baseline": "top", "lineHeight": 24.5, "fontSize": 13.7, "fontWeight": "bold", "color": "#595959"},
"layer": [
{
"data": {"values": [{"box": "title"}]},
"mark": {"type": "rect", "color": "white"},
"encoding": {
"x": {"datum": {"year": 1998, "month": 7, "date": 10, "utc": true}, "type": "temporal", "scale": {"type": "utc", "range": [57, 1258], "domain": [{"year": 1997, "month": 1, "date": 1, "utc": true}, {"year": 2023, "month": 1, "date": 15, "utc": true}]}},
"x2": {"datum": {"year": 2021, "month": 2, "date": 20, "utc": true}},
"y": {"datum": 433, "type": "quantitative", "scale": {"domain": [-100, 500]}},
"y2": {"datum": 501}
}
},
{
"data": {"values": [{"level": -26}]},
"mark": {"type": "rule", "color": "#D9D9D9", "strokeWidth": 1},
"encoding": {
"x": {"datum": {"year": 1997, "month": 1, "date": 1, "utc": true}, "type": "temporal", "scale": {"type": "utc", "range": [57, 1258], "domain": [{"year": 1997, "month": 1, "date": 1, "utc": true}, {"year": 2023, "month": 1, "date": 15, "utc": true}]}},
"x2": {"datum": {"year": 2023, "month": 1, "date": 15, "utc": true}},
"y": {"field": "level", "type": "quantitative", "scale": {"domain": [-100, 500]}}}
},
{
"data": {"values": [{"level": 0}]},
"mark": {"type": "rule", "color": "#000000", "strokeWidth": 3.5},
"encoding": {
"x": {"datum": {"year": 1997, "month": 1, "date": 1, "utc": true}, "type": "temporal", "scale": {"type": "utc", "range": [57, 1258], "domain": [{"year": 1997, "month": 1, "date": 1, "utc": true}, {"year": 2023, "month": 1, "date": 15, "utc": true}]}},
"x2": {"datum": {"year": 2023, "month": 1, "date": 15, "utc": true}},
"y": {"field": "level", "type": "quantitative", "scale": {"domain": [-100, 500]}},
"strokeDash": {"datum": "0,0%", "type": "nominal", "scale": {"domain": ["0,0%"], "range": [[1, 0]]},
"legend": {"title": null, "orient": "none", "legendX": 1069, "legendY": 156, "fillColor": "white", "padding": 12, "labelFontSize": 16, "labelColor": "#595959", "labelOffset": 4, "symbolType": "stroke", "symbolSize": 784, "symbolStrokeWidth": 3.5, "symbolStrokeColor": "#000000"}}
}
},
{
"data": {"name": "perf"},
"mark": {"type": "point", "shape": "M-1,0L1,0M0,-1L0,1", "filled": false, "size": 64, "strokeWidth": 1.6, "opacity": 1},
"encoding": {
"x": {"field": "date", "type": "temporal", "scale": {"type": "utc", "range": [57, 1258], "domain": [{"year": 1997, "month": 1, "date": 1, "utc": true}, {"year": 2023, "month": 1, "date": 15, "utc": true}]},
"axis": {"title": null, "values": [{"year": 1997, "month": 1, "date": 1, "utc": true}, {"year": 1999, "month": 1, "date": 1, "utc": true}, {"year": 2001, "month": 1, "date": 1, "utc": true}, {"year": 2003, "month": 1, "date": 1, "utc": true}, {"year": 2005, "month": 1, "date": 1, "utc": true}, {"year": 2007, "month": 1, "date": 1, "utc": true}, {"year": 2009, "month": 1, "date": 1, "utc": true}, {"year": 2011, "month": 1, "date": 1, "utc": true}, {"year": 2013, "month": 1, "date": 1, "utc": true}, {"year": 2015, "month": 1, "date": 1, "utc": true}, {"year": 2017, "month": 1, "date": 1, "utc": true}, {"year": 2019, "month": 1, "date": 1, "utc": true}, {"year": 2021, "month": 1, "date": 1, "utc": true}],
"format": "%d/%m/%Y", "grid": true, "gridColor": "#D9D9D9", "gridWidth": 1, "domain": false, "ticks": false, "tickSize": 0, "labelPadding": 16, "labelFontSize": 13.5, "labelColor": "#595959", "labelFlush": false, "labelOverlap": false}},
"y": {"field": "value", "type": "quantitative", "scale": {"domain": [-100, 500]},
"axis": {"title": null, "offset": -57, "values": [-100, 0, 100, 200, 300, 400, 500], "labelExpr": "datum.value < 0 ? '- ' + abs(datum.value) + '%' : datum.value + '%'", "grid": true, "gridColor": "#D9D9D9", "gridWidth": 1, "domain": false, "ticks": false, "tickSize": 0, "labelPadding": 11, "labelFontSize": 12, "labelColor": "#595959"}},
"color": {"field": "series", "type": "nominal", "sort": null,
"scale": {"domain": ["A04", "A07", "A10"], "range": ["#FFC000", "#0070C0", "#FF0000"]},
"legend": {"title": null, "orient": "none", "legendX": 1078, "legendY": 50, "fillColor": "white", "padding": 12, "rowPadding": 22, "labelFontSize": 16, "labelColor": "#595959", "labelOffset": 10, "symbolType": "M-1,0L1,0M0,-1L0,1", "symbolSize": 36, "symbolStrokeWidth": 1.2,
"labelExpr": "'Rendement_' + datum.value"}}
}
}
]
}
]
}
